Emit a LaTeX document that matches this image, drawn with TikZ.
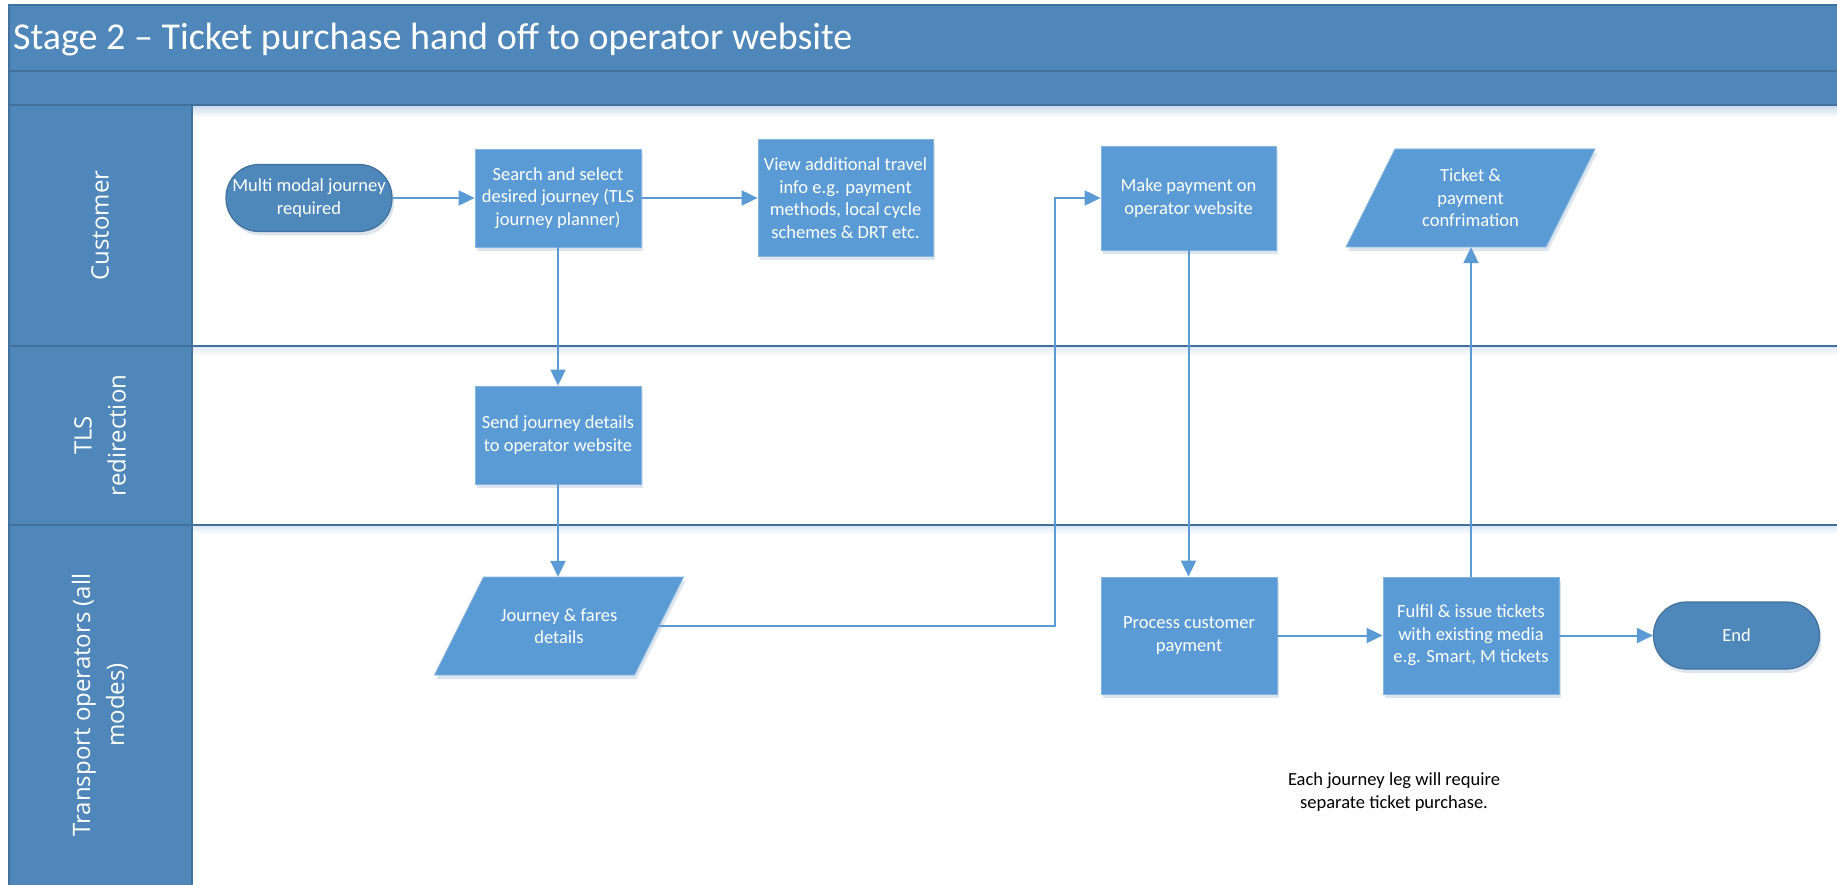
\documentclass[tikz,border=0pt]{standalone}
\usepackage{fontspec}
\setmainfont{Carlito}
\newfontfamily\lanefont{Open Sans}
\usetikzlibrary{arrows.meta,shadows,calc}
\definecolor{bandfill}{HTML}{4F87BA}
\definecolor{bandline}{HTML}{41719C}
\definecolor{boxblue}{HTML}{5B9BD5}
\definecolor{termblue}{HTML}{4E87BA}
\definecolor{arrblue}{HTML}{5B9BD5}
\definecolor{shadowc}{HTML}{9DB5D0}
\newcommand\bxfont{\fontsize{18.5}{22.5}\selectfont}
\begin{document}
\begin{tikzpicture}[x=1pt,y=-1pt,
  every node/.style={inner sep=0pt},
  softshadow/.style={drop shadow={shadow xshift=2pt,shadow yshift=-4pt,fill=shadowc,opacity=0.35}},
  proc/.style={rectangle, fill=boxblue, draw=boxblue!75!white, line width=0.8pt, text=white, align=center, font=\bxfont, softshadow},
  termbox/.style={rectangle, rounded corners=33pt, fill=termblue, draw=bandline, line width=1.2pt, text=white, align=center, font=\bxfont, minimum width=166pt, minimum height=67pt, softshadow},
  iobox/.style={rectangle, minimum width=200pt, minimum height=98pt, text=white, align=center, font=\bxfont},
  iofill/.style={fill=boxblue, draw=boxblue!75!white, line width=0.8pt, softshadow},
  conn/.style={draw=arrblue, line width=2pt, -{Triangle[length=16pt,width=15pt]}},
  lanelabel/.style={rotate=90, text=white, font=\lanefont\fontsize{24}{34}\selectfont, align=center},
  laneline/.style={draw=bandline, line width=2.2pt},
]
\useasboundingbox (0,0) rectangle (1837,885);

% ---------- swimlane frame ----------
\fill[white] (0,0) rectangle (1837,885);
\fill[bandfill] (9,5) rectangle (1837,105);
\fill[bandfill] (9,105) rectangle (192,885);
\shade[top color=bandfill!30, bottom color=white] (192,106) rectangle (1837,117);
\shade[top color=bandfill!18, bottom color=white] (192,347) rectangle (1837,356);
\shade[top color=bandfill!18, bottom color=white] (192,526) rectangle (1837,535);
\draw[laneline] (9,885) -- (9,5) -- (1837,5);
\draw[laneline] (9,71) -- (1837,71);
\draw[laneline] (9,105) -- (1837,105);
\draw[draw=bandline, line width=1.2pt] (192,105) -- (192,885);
\draw[laneline] (9,346) -- (1837,346);
\draw[laneline] (9,525) -- (1837,525);

\node[anchor=west, text=white, font=\fontsize{38}{45}\selectfont] (title) at (13,40) {Stage 2 – Ticket purchase hand off to operator website};

\node[lanelabel] (lcust) at (100,225.5) {Customer};
\node[lanelabel] (ltls) at (100,435.5) {TLS\\redirection};
\node[lanelabel] (ltrans) at (100,705) {Transport operators (all\\modes)};

% ---------- parallelogram bodies ----------
\coordinate (tc) at (1470.5,198);
\coordinate (jc) at (559,626);
\path[iofill] ($(tc)+(-75.5,-49)$) -- ($(tc)+(124.5,-49)$) -- ($(tc)+(75.5,49)$) -- ($(tc)+(-124.5,49)$) -- cycle;
\path[iofill] ($(jc)+(-75.5,-49)$) -- ($(jc)+(124.5,-49)$) -- ($(jc)+(75.5,49)$) -- ($(jc)+(-124.5,49)$) -- cycle;

% ---------- shapes ----------
\node[termbox] (start) at (309,198) {Multi modal journey\\required};
\node[proc, minimum width=166pt, minimum height=98pt] (search) at (558,198) {Search and select\\desired journey (TLS\\journey planner)};
\node[proc, minimum width=175pt, minimum height=117pt] (view) at (845.5,198) {View additional travel\\info e.g. payment\\methods, local cycle\\schemes \& DRT etc.};
\node[proc, minimum width=175pt, minimum height=104pt] (pay) at (1188.5,198) {Make payment on\\operator website};
\node[iobox] (ticket) at (tc) {Ticket \&\\payment\\confrimation};
\node[proc, minimum width=166pt, minimum height=98pt] (send) at (558,435) {Send journey details\\to operator website};
\node[iobox] (jf) at (jc) {Journey \& fares\\details};
\node[proc, minimum width=176pt, minimum height=117pt] (process) at (1189,635.5) {Process customer\\payment};
\node[proc, minimum width=176pt, minimum height=117pt] (fulfil) at (1471,635.5) {Fulfil \& issue tickets\\with existing media\\e.g. Smart, M tickets};
\node[termbox] (end) at (1736.5,635.5) {End};
\node[font=\bxfont, align=center, text=black] (note) at (1394,792) {Each journey leg will require\\separate ticket purchase.};

% ---------- connectors ----------
\coordinate (bend) at (1055,626);
\draw[conn] (start) -- (search);
\draw[conn] (search) -- (view);
\draw[conn] (search.south) -- (search.south |- send.north);
\draw[conn] (send.south) -- (send.south |- jf.north);
\draw[conn] (jf.east) -- (bend) |- (pay.west);
\draw[conn] (pay.south) -- (pay.south |- process.north);
\draw[conn] (process) -- (fulfil);
\draw[conn] (fulfil) -- (end);
\draw[conn] (fulfil.north) -- (fulfil.north |- ticket.south);
\end{tikzpicture}
\end{document}
